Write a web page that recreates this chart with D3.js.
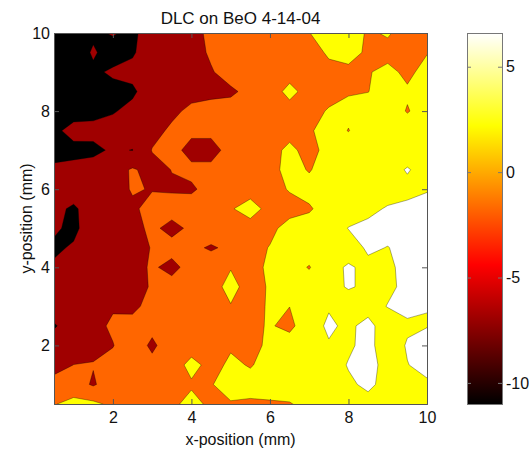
<!DOCTYPE html>
<html lang="en">
<head>
<meta charset="UTF-8">
<title>DLC on BeO 4-14-04</title>
<script src="https://d3js.org/d3.v7.min.js"></script>
<style>
  body { margin: 0; background: #fff; }
  svg { display: block; font-family: Arial, "Liberation Sans", Helvetica, sans-serif; }
  .axis text { font-size: 16px; fill: #111; }
  .axis path, .axis line { stroke: #555; }
  .cbar path, .cbar line { stroke: #777; }
</style>
</head>
<body>
<svg id="chart" width="529" height="450"></svg>
<script>
// measurement grid (mm)
const xPos = [0.5, 1, 1.5, 2, 2.5, 3, 3.5, 4, 4.5, 5, 5.5, 6, 6.5, 7, 7.5, 8, 8.5, 9, 9.5, 10];
const yPos = [10, 9.5, 9, 8.5, 8, 7.5, 7, 6.5, 6, 5.5, 5, 4.5, 4, 3.5, 3, 2.5, 2, 1.5, 1, 0.5];

// measured values, one row per y position (top row = y 10)
const zRows = [
  [-12, -12, -10.6, -9.7, -10.8, -8, -7.5, -6.5, -4, -3, -2.5, -2, -1.5, -0.1, 2, 2.5, -0.6, 0.5, -2, -2.5],
  [-12, -12, -9.6, -11.5, -10.4, -8, -7.5, -6.5, -4.5, -3, -2.5, -2.5, -2, -1.5, 0.5, 1.5, -0.7, -1.5, -2, -0.2],
  [-12, -11.5, -10.6, -9.5, -9, -8, -7.5, -7, -5.3, -3.5, -3, -2.5, -2, -1.5, -1, -1, -0.3, 1.2, -1, 1.5],
  [-12, -12, -11.5, -11, -10.6, -8, -7.5, -6.5, -6, -5.6, -4, -2.5, 1.5, -2, -1.2, -0.3, -0.1, 2, 0.6, 0.4],
  [-12, -11.5, -11, -10.3, -9, -7.5, -6, -4, -3.5, -3.5, -3, -2.5, -2, -1.2, 0.3, 1, 2.5, 2.5, -0.3, 2],
  [-10.8, -8.8, -9, -8.5, -8, -6.5, -4.2, -4, -4, -3, -2.5, -2, -1.5, -0.6, 2, -0.15, 2.5, 2.5, 2.5, 2.5],
  [-11.5, -11, -10.8, -9.5, -10.1, -4.8, -3.5, -6.5, -6.5, -3.5, -2.5, -1.5, 1, -1.5, 1.5, 2.5, 2.5, 3, 3, 3],
  [-9.2, -9, -8.5, -7, -4.5, -6.5, -4.9, -4, -4, -3, -2.5, -1.5, 1.5, -0.3, 2, 2.5, 3, 3.5, 5.3, 3.5],
  [-9.5, -9, -8.5, -7.5, -4.5, -5.3, -5.5, -5.6, -3.5, -2, -1.5, -1.5, 0.3, 1.5, 2.5, 3, 3.5, 3.5, 4, 4.8],
  [-9.5, -10.3, -9, -8, -6, -3, -3, -3, -3, -0.3, 1.5, -1.2, -1.5, -0.5, 2, 3.5, 4.2, 5.3, 5.8, 6],
  [-9.5, -10.8, -8, -7.5, -6.5, -4, -6.5, -4, -1.5, -2, -1.5, -1, 1.5, 2, 3, 5.1, 5.8, 6, 6, 6],
  [-10.6, -9.6, -8, -7.5, -6.5, -4.8, -3.2, -3.7, -5.7, -3.7, -1.5, 0.2, 1.5, 2.5, 3, 3.4, 5.5, 4.9, 6, 6.2],
  [-9.5, -9, -8, -7.5, -7, -4.3, -6.5, -3, -1.5, -0.25, -1.5, 0.8, 2, -0.3, 3.9, 5.4, 4.2, 4.5, 5.8, 6],
  [-9, -8.5, -8, -7.5, -7, -4.5, -3, -2.5, -1.9, 1.5, -1.9, 0.5, 2.5, 2.5, 3.5, 5.4, 4.2, 4.5, 5.6, 5.8],
  [-8, -8, -7.5, -5.5, -6, -3.5, -3, -2.5, -2, -0.25, -1.5, 0.5, 0.05, 3, 4.8, 2.5, 4, 5.1, 5.8, 5.05],
  [-10.4, -8, -6.5, -4.2, -3.5, -3.5, -2.5, -2.5, -1.8, -0.6, -1.2, 0.5, -1.5, 3.9, 5.4, 4.5, 5.8, 3.5, 4.5, 4.9],
  [-8, -7.5, -6, -5.2, -2, -6, -2, -2.25, -1.5, -0.5, -1.5, 1, 3, 3, 4.8, 4.5, 6, 3, 5.3, 6],
  [-7, -4.95, -4.8, -3.5, -3, -3.5, -2.5, 1.5, -1.5, 0.8, -0.3, 1.5, 2.5, 3, 3.5, 5.2, 6, 4, 4.9, 6],
  [-3, -3, -5.5, -2.5, -2.5, -2, -2, -0.6, -0.2, 1.5, 1.5, 2, 2.5, 3, 3.5, 4.5, 5.6, 4, 4.2, 4.5],
  [-0.3, 1.5, 1, -1, -2, -2, -1, 1.5, -1, -0.3, -0.6, -0.5, -0.3, 1.5, 3, 3.5, 4, 3.5, 3.5, 3.5]
];

// contour levels and fill colour of each band (lowest band first)
const levels = [-10, -5, 0, 5];
const bandColors = ["#000000", "#a00000", "#ff6600", "#ffff00", "#ffffff"];

const xTicks = [2, 4, 6, 8, 10];
const yTicks = [2, 4, 6, 8, 10];
const cbRange = [-11, 6.6];
const cbTicks = [-10, -5, 0, 5];

const svg = d3.select("#chart");
const plot = { left: 54, right: 427, top: 33, bottom: 404 };
const cb = { left: 467, right: 502 };

const x = d3.scaleLinear().domain([0.5, 10]).range([plot.left, plot.right]);
const y = d3.scaleLinear().domain([0.5, 10]).range([plot.bottom, plot.top]);

// filled contours
const nx = xPos.length, ny = yPos.length;
const stepX = xPos[1] - xPos[0], stepY = yPos[1] - yPos[0];
const contours = d3.contours().size([nx, ny]).thresholds(levels)(zRows.flat());

// grid coords -> data coords -> pixels (sample i sits at i + 0.5)
const toPixels = d3.geoTransform({
  point(cx, cy) {
    this.stream.point(x(xPos[0] + (cx - 0.5) * stepX), y(yPos[0] + (cy - 0.5) * stepY));
  }
});
const path = d3.geoPath(toPixels);

svg.append("clipPath").attr("id", "plotClip")
  .append("rect")
  .attr("x", plot.left).attr("y", plot.top)
  .attr("width", plot.right - plot.left).attr("height", plot.bottom - plot.top);

const field = svg.append("g").attr("clip-path", "url(#plotClip)");
field.append("rect")
  .attr("x", plot.left).attr("y", plot.top)
  .attr("width", plot.right - plot.left).attr("height", plot.bottom - plot.top)
  .attr("fill", bandColors[0]);

field.selectAll("path.band")
  .data(contours)
  .join("path")
  .attr("class", "band")
  .attr("d", path)
  .attr("fill", (d, i) => bandColors[i + 1])
  .attr("stroke", "#000")
  .attr("stroke-opacity", 0.55)
  .attr("stroke-width", 0.6)
  .attr("stroke-linejoin", "round");

// axes (box with inward ticks)
svg.append("g").attr("class", "axis")
  .attr("transform", `translate(0,${plot.bottom})`)
  .call(d3.axisBottom(x).tickValues(xTicks).tickSize(-5).tickPadding(8).tickFormat(d => String(d)));
svg.append("g").attr("class", "axis")
  .attr("transform", `translate(0,${plot.top})`)
  .call(d3.axisTop(x).tickValues(xTicks).tickSize(-5).tickFormat(""));
svg.append("g").attr("class", "axis")
  .attr("transform", `translate(${plot.left},0)`)
  .call(d3.axisLeft(y).tickValues(yTicks).tickSize(-5).tickPadding(4).tickFormat(d => String(d)));
svg.append("g").attr("class", "axis")
  .attr("transform", `translate(${plot.right},0)`)
  .call(d3.axisRight(y).tickValues(yTicks).tickSize(-5).tickFormat(""));

// titles
svg.append("text")
  .attr("x", (plot.left + plot.right) / 2).attr("y", 23.5)
  .attr("text-anchor", "middle").attr("font-size", 17).attr("fill", "#111")
  .text("DLC on BeO 4-14-04");
svg.append("text")
  .attr("x", (plot.left + plot.right) / 2).attr("y", 445)
  .attr("text-anchor", "middle").attr("font-size", 16).attr("fill", "#111")
  .text("x-position (mm)");
svg.append("text")
  .attr("transform", `translate(32,${(plot.top + plot.bottom) / 2}) rotate(-90)`)
  .attr("text-anchor", "middle").attr("font-size", 16).attr("fill", "#111")
  .text("y-position (mm)");

// colorbar (hot colormap)
const cbScale = d3.scaleLinear().domain(cbRange).range([plot.bottom, plot.top]);
const hot = d3.scaleLinear().domain([0, 3 / 8, 6 / 8, 1])
  .range(["#000000", "#ff0000", "#ffff00", "#ffffff"]);

const grad = svg.append("defs").append("linearGradient")
  .attr("id", "hotGrad")
  .attr("x1", 0).attr("y1", 1).attr("x2", 0).attr("y2", 0);
grad.selectAll("stop")
  .data(d3.range(0, 1.0001, 0.125))
  .join("stop")
  .attr("offset", d => d)
  .attr("stop-color", d => hot(d));

svg.append("rect")
  .attr("x", cb.left).attr("y", plot.top)
  .attr("width", cb.right - cb.left).attr("height", plot.bottom - plot.top)
  .attr("fill", "url(#hotGrad)");

svg.append("g").attr("class", "axis cbar")
  .attr("transform", `translate(${cb.right},0)`)
  .call(d3.axisRight(cbScale).tickValues(cbTicks).tickSize(-4).tickSizeOuter(0).tickPadding(4).tickFormat(d => String(d)));
svg.append("g").attr("class", "axis cbar")
  .attr("transform", `translate(${cb.left},0)`)
  .call(d3.axisLeft(cbScale).tickValues(cbTicks).tickSize(-4).tickSizeOuter(0).tickFormat(""));
svg.selectAll(".axis text").attr("font-family", null).attr("font-size", null);

svg.append("rect")
  .attr("x", cb.left + 0.5).attr("y", plot.top + 0.5)
  .attr("width", cb.right - cb.left).attr("height", plot.bottom - plot.top)
  .attr("fill", "none").attr("stroke", "#777");
</script>
</body>
</html>
